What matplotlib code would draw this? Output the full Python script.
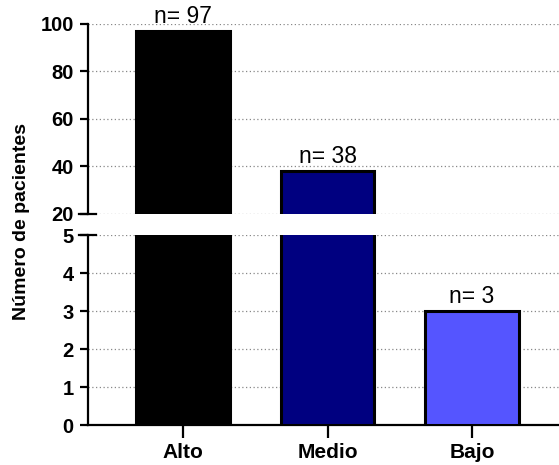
import matplotlib.pyplot as plt

plt.rcParams['font.family'] = ['Liberation Sans', 'DejaVu Sans']

categories = ['Alto', 'Medio', 'Bajo']
counts = [97, 38, 3]
colors = ['#000000', '#000080', '#5555ff']
labels = ['n= 97', 'n= 38', 'n= 3']

fig = plt.figure(figsize=(5.59, 4.65), dpi=100)
ax_top = fig.add_axes([0.157, 0.5398, 0.85, 0.4086])
ax_bot = fig.add_axes([0.157, 0.086, 0.85, 0.4086])

x = range(len(categories))
for ax in (ax_top, ax_bot):
    ax.bar(x, counts, width=0.65, color=colors, edgecolor='black', linewidth=2.2, zorder=3)
    ax.set_xlim(-0.66, 2.63)
    ax.yaxis.grid(True, linestyle=(0, (1, 2)), color='#888888', linewidth=0.9, zorder=0)
    ax.spines['top'].set_visible(False)
    ax.spines['right'].set_visible(False)
    ax.spines['left'].set_linewidth(1.6)
    ax.spines['bottom'].set_linewidth(1.6)
    ax.tick_params(axis='y', width=1.6, length=6, labelsize=14.5, pad=4)

ax_top.set_ylim(20, 100)
ax_top.set_yticks([20, 40, 60, 80, 100])
ax_top.spines['bottom'].set_visible(False)
ax_top.set_xticks([])

ax_bot.set_ylim(0, 5)
ax_bot.set_yticks([0, 1, 2, 3, 4, 5])
ax_bot.set_xticks(list(x))
ax_bot.set_xticklabels(categories, fontweight='bold', fontsize=15)
ax_bot.tick_params(axis='x', width=1.6, length=9, pad=4)

for ax in (ax_top, ax_bot):
    for t in ax.get_yticklabels():
        t.set_fontweight('bold')

# break marks on the left spine
for ax, yv in ((ax_top, 0.0), (ax_bot, 1.0)):
    ax.plot([-0.018, 0.018], [yv, yv], transform=ax.transAxes, color='black',
            linewidth=1.6, clip_on=False, zorder=5)

# count labels
for i, (c, lab) in enumerate(zip(counts, labels)):
    ax = ax_top if c > 5 else ax_bot
    ax.annotate(lab, (i, c), xytext=(0, 2), textcoords='offset points',
                ha='center', va='bottom', fontsize=16.5)

fig.text(0.038, 0.523, 'Número de pacientes', rotation=90, ha='center', va='center',
         fontweight='bold', fontsize=14)

fig.savefig('out.png', dpi=100)
